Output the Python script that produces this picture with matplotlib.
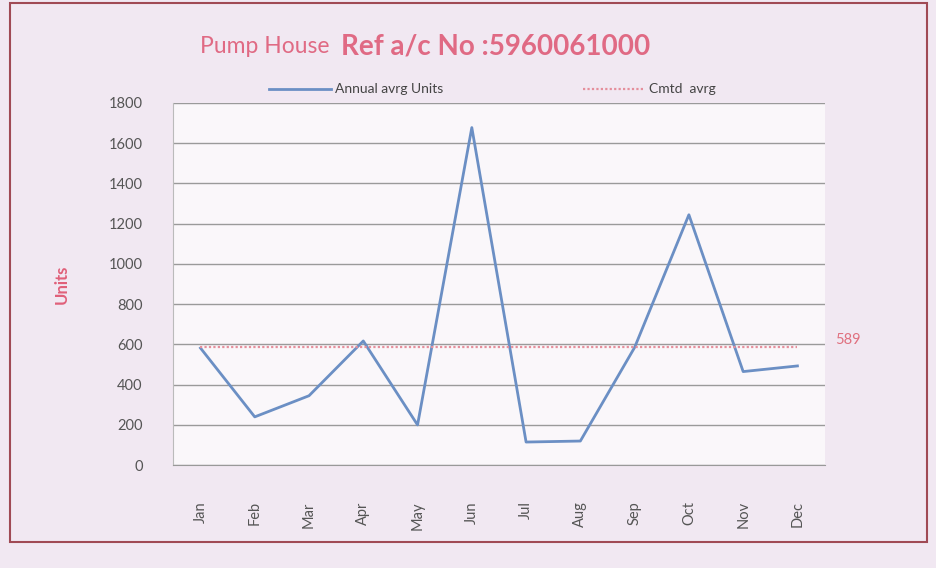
import numpy as np
import matplotlib.pyplot as plt
from matplotlib.patches import Rectangle

months = ["Jan", "Feb", "Mar", "Apr", "May", "Jun", "Jul", "Aug", "Sep", "Oct", "Nov", "Dec"]
units = [582, 240, 345, 617, 200, 1677, 115, 120, 585, 1244, 465, 493]
cmtd_avg = 589

plt.rcParams['font.family'] = ['Lato', 'DejaVu Sans']

fig = plt.figure(figsize=(9.37, 5.68), dpi=100)
fig.patch.set_facecolor('#f1e8f2')

ax = fig.add_axes([0.185, 0.181, 0.695, 0.638])
ax.set_facecolor('#faf7fa')

x = np.arange(len(months))
ax.plot(x, units, color='#6b8fc4', lw=2.0, label='Annual avrg Units')
ax.plot(x, [cmtd_avg] * len(months), color='#e58f9c', lw=1.6, ls=(0, (1, 1)), label='Cmtd  avrg')
ax.text(x[-1] + 0.7, cmtd_avg, str(cmtd_avg), color='#e0707f', fontsize=10.5, va='bottom', ha='left')

ax.set_xlim(-0.5, len(months) - 0.5)
ax.set_ylim(0, 1800)
ax.set_yticks(np.arange(0, 1801, 200))
ax.set_xticks(x)
ax.set_xticklabels(months, rotation=90, fontsize=10.5, color='#555555')
ax.tick_params(axis='y', labelsize=10.5, colors='#555555', length=0, pad=22)
ax.tick_params(axis='x', length=0, pad=26)
ax.grid(axis='y', color='#9a9a9a', lw=1.0)
ax.set_axisbelow(True)
for s in ['top', 'right']:
    ax.spines[s].set_visible(False)
ax.spines['left'].set_color('#bbbbbb')
ax.spines['bottom'].set_color('#999999')

ax.set_ylabel('Units', color='#e0607a', fontsize=12, fontweight='bold', labelpad=28)

ax.legend(loc='lower center', bbox_to_anchor=(0.49, 1.005), ncol=2, frameon=False,
          fontsize=10, handlelength=4.5, columnspacing=10, handletextpad=0.3,
          labelcolor='#444444', borderaxespad=0)

# title in two parts: regular + bold
t1 = fig.text(0.213, 0.918, 'Pump House', color='#e06a84', fontsize=16.5, ha='left', va='center')
fig.canvas.draw()
bb = t1.get_window_extent(fig.canvas.get_renderer())
fig.text((bb.x1 + 12) / fig.bbox.width, 0.918, 'Ref a/c No :5960061000', color='#e06a84',
         fontsize=20, fontweight='bold', ha='left', va='center')

fig.add_artist(Rectangle((0.011, 0.045), 0.978, 0.95, transform=fig.transFigure,
                         fill=False, edgecolor='#a04a55', lw=1.5))

fig.savefig('out.png', dpi=100, facecolor=fig.get_facecolor())
